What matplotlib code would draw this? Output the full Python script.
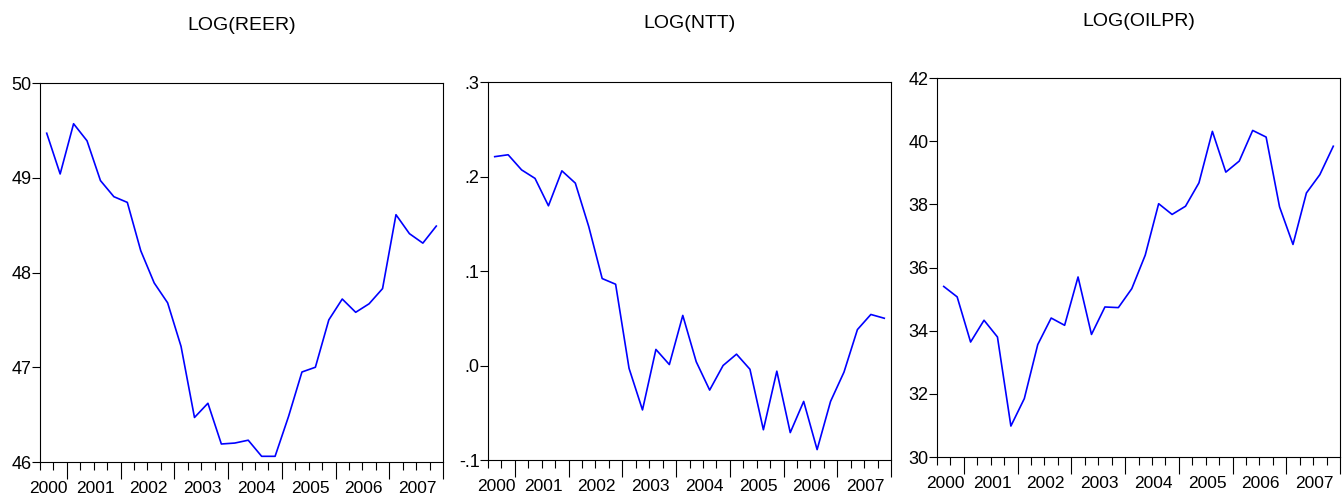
import matplotlib
matplotlib.use("Agg")
import matplotlib.pyplot as plt
import numpy as np

plt.rcParams['font.family'] = ['Liberation Sans Narrow', 'Liberation Sans', 'DejaVu Sans']

# quarterly, 2000Q3 .. 2007Q4
years = ["2000", "2001", "2002", "2003", "2004", "2005", "2006", "2007"]

reer = [49.47, 49.04, 49.57, 49.39, 48.97, 48.80, 48.74, 48.23, 47.89, 47.68,
        47.22, 46.47, 46.62, 46.19, 46.20, 46.23, 46.06, 46.06, 46.48, 46.95,
        47.00, 47.50, 47.72, 47.58, 47.67, 47.83, 48.61, 48.41, 48.31, 48.49]

ntt = [0.221, 0.223, 0.207, 0.198, 0.169, 0.206, 0.193, 0.147, 0.092, 0.086,
       -0.003, -0.047, 0.017, 0.001, 0.053, 0.004, -0.026, 0.000, 0.012, -0.004,
       -0.068, -0.006, -0.071, -0.038, -0.089, -0.038, -0.007, 0.038, 0.054, 0.050]

oilpr = [35.40, 35.07, 33.64, 34.33, 33.80, 30.98, 31.85, 33.56, 34.40, 34.17,
         35.70, 33.88, 34.75, 34.73, 35.33, 36.39, 38.02, 37.68, 37.94, 38.68,
         40.31, 39.02, 39.37, 40.34, 40.13, 37.92, 36.73, 38.36, 38.94, 39.84]

reer_ticks = [46, 47, 48, 49, 50]
reer_labels = ["46", "47", "48", "49", "50"]
ntt_ticks = [-0.1, 0.0, 0.1, 0.2, 0.3]
ntt_labels = ["-.1", ".0", ".1", ".2", ".3"]
oil_ticks = [30, 32, 34, 36, 38, 40, 42]
oil_labels = ["30", "32", "34", "36", "38", "40", "42"]

W, H = 1343, 498
fig = plt.figure(figsize=(W / 100, H / 100), dpi=100)

panels = [
    ("LOG(REER)", reer, reer_ticks, reer_labels, (40, 443, 83, 462), 25),
    ("LOG(NTT)", ntt, ntt_ticks, ntt_labels, (488, 891, 82, 460), 24),
    ("LOG(OILPR)", oilpr, oil_ticks, oil_labels, (937, 1340, 78, 457), 21),
]

n = len(reer)
x = np.arange(n)

for title, vals, yt, yl, (l, r, t, b), ty in panels:
    ax = fig.add_axes([l / W, 1 - b / H, (r - l) / W, (b - t) / H])
    ax.plot(x, vals, color='#0000ff', lw=1.2)
    ax.set_xlim(-0.5, n - 0.5)
    ax.set_ylim(yt[0], yt[-1])
    ax.set_yticks(yt)
    ax.set_yticklabels(yl, fontsize=13)
    ax.tick_params(axis='y', direction='out', length=6, width=0.8, pad=0)

    # quarter ticks, longer at year boundaries
    ax.set_xticks(np.arange(1.5, n, 4))
    ax.set_xticks(np.arange(-0.5, n, 1), minor=True)
    ax.set_xticklabels([])
    ax.tick_params(axis='x', which='major', direction='out', length=12, width=0.8)
    ax.tick_params(axis='x', which='minor', direction='out', length=6, width=0.8)

    centers = [0.1] + [3.6 + 4 * k for k in range(len(years) - 1)]
    for c, yr in zip(centers, years):
        ax.text(c, -0.05, yr, transform=ax.get_xaxis_transform(),
                ha='center', va='top', fontsize=12.5)

    for s in ax.spines.values():
        s.set_linewidth(0.8)

    fig.text((l + r) / 2 / W, 1 - ty / H, title, ha='center', va='center', fontsize=14)

fig.savefig("out.png", dpi=100)
